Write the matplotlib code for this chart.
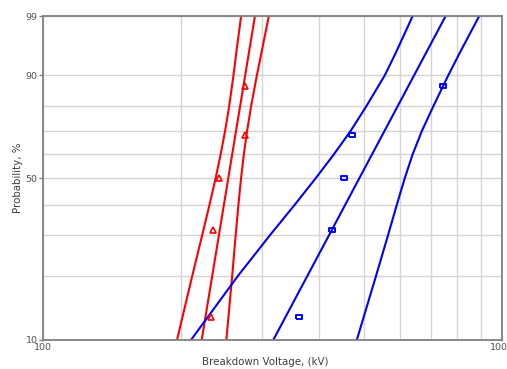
import numpy as np
import matplotlib
matplotlib.use("Agg")
import matplotlib.pyplot as plt
from matplotlib.ticker import FixedLocator, NullFormatter

# data points (median ranks, %)
ranks = [12.9, 31.5, 50.0, 68.5, 87.0]
red_kv = [232, 235, 242, 275, 276]
blue_kv = [361, 426, 453, 471, 744]

# fitted lines and confidence bounds, read at these probabilities (%)
grid_p = [10, 20, 30, 40, 50, 60, 70, 80, 90, 95, 99]
red_lo = [195.9, 211.5, 222.2, 230.6, 237.7, 243.8, 249.3, 254.5, 260.0, 263.7, 270.2]
red_hi = [250.9, 258.4, 262.9, 266.6, 270.1, 273.9, 278.4, 284.1, 292.4, 299.2, 310.5]
red_fit_p = [10, 99]
red_fit = [221.7, 289.6]
blue_lo = [210.1, 266.2, 312.0, 353.8, 392.5, 430.1, 467.9, 506.5, 555.4, 587.0, 639.0]
blue_hi = [482.8, 531.9, 564.5, 590.3, 613.9, 638.7, 669.1, 708.9, 763.8, 809.2, 892.4]
blue_fit_p = [10, 99]
blue_fit = [317.5, 754.0]


def weib(p):
    p = np.clip(np.asarray(p, dtype=float), 1e-6, 100 - 1e-6)
    return np.log(-np.log(1 - p / 100.0))


def weib_inv(w):
    return 100.0 * (1 - np.exp(-np.exp(np.asarray(w, dtype=float))))


fig = plt.figure(figsize=(5.07, 3.69), dpi=100)
ax = fig.add_axes([0.0848, 0.0786, 0.9052, 0.878])
ax.set_xscale("log")
ax.set_yscale("function", functions=(weib, weib_inv))
ax.set_xlim(100, 1000)
ax.set_ylim(10, 99)

red = "#ff0000"
blue = "#0000ff"
for xs, ps, c in [(red_lo, grid_p, red), (red_hi, grid_p, red), (red_fit, red_fit_p, red),
                  (blue_lo, grid_p, blue), (blue_hi, grid_p, blue), (blue_fit, blue_fit_p, blue)]:
    ax.plot(xs, ps, color=c, lw=1.5, solid_joinstyle="round")

# small flat rectangle like the original square markers
rect = [(-1.5, -1), (1.5, -1), (1.5, 1), (-1.5, 1), (-1.5, -1)]
ax.plot(red_kv, ranks, ls="none", marker="^", ms=4, mfc="none", mec=red, mew=1.2)
ax.plot(blue_kv, ranks, ls="none", marker=rect, ms=5, mfc="none", mec=blue, mew=1.4)

# ticks and grid
ax.yaxis.set_major_locator(FixedLocator([10, 50, 90, 99]))
ax.yaxis.set_minor_locator(FixedLocator([20, 30, 40, 60, 70, 80]))
ax.set_yticklabels(["10", "50", "90", "99"])
ax.yaxis.set_minor_formatter(NullFormatter())
ax.xaxis.set_major_locator(FixedLocator([100, 1000]))
ax.xaxis.set_minor_locator(FixedLocator([200, 300, 400, 500, 600, 700, 800, 900]))
ax.set_xticklabels(["100", "1000"])
ax.xaxis.set_minor_formatter(NullFormatter())

ax.grid(True, which="both", color="#d4d4d4", lw=1)
ax.set_axisbelow(True)
ax.tick_params(which="major", length=3, width=1, color="#808080",
               labelsize=6.8, labelcolor="#505050", pad=1)
ax.tick_params(axis="x", which="major", length=1, pad=1.5)
ax.tick_params(which="minor", length=0)
for s in ax.spines.values():
    s.set_color("#808080")
    s.set_linewidth(1.3)

ax.set_xlabel("Breakdown Voltage, (kV)", fontsize=7.4, color="#404040")
ax.xaxis.set_label_coords(0.484, -0.053)
ax.set_ylabel("Probability, %", fontsize=7.4, color="#404040", labelpad=2)

fig.savefig("out.png", dpi=100)
